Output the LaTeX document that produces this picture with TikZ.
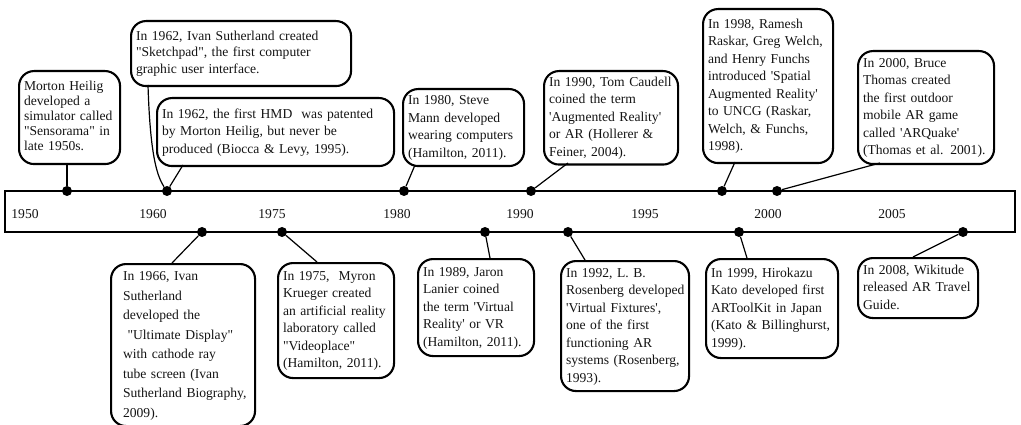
\documentclass[tikz,border=0pt]{standalone}
\usepackage{fontspec}
\setmainfont{Liberation Serif}
\newcommand{\sq}{\textquotesingle}
\newcommand{\dq}{\textquotedbl}
\newcommand{\tl}[1]{\begin{tabular}{@{}l@{}}#1\end{tabular}}
\begin{document}
\begin{tikzpicture}[x=1pt,y=-1pt,
  evbox/.style={draw, line width=2.1pt, rounded corners=15pt, align=left,
    inner xsep=5pt, inner ysep=3pt, anchor=north west, text=black!92,
    font=\fontsize{13.6}{17.5}\selectfont},
  evdot/.style={circle, fill=black, inner sep=0pt, minimum size=10pt},
  yr/.style={font=\fontsize{13.6}{16}\selectfont, text=black!92},
  conn/.style={line width=1.2pt}]
\useasboundingbox (0,0) rectangle (1021,425);
% timeline bar
\draw[line width=2.3pt] (5,191) rectangle (1015,232);
% years
\node[yr] (y1950) at (25,214) {1950};
\node[yr] (y1960) at (153,214) {1960};
\node[yr] (y1975) at (272,214) {1975};
\node[yr] (y1980) at (397,214) {1980};
\node[yr] (y1990) at (520,214) {1990};
\node[yr] (y1995) at (645,214) {1995};
\node[yr] (y2000) at (768,214) {2000};
\node[yr] (y2005) at (892,214) {2005};
% dots on top line
\node[evdot] (d1) at (67,191) {};
\node[evdot] (d2) at (167,191) {};
\node[evdot] (d3) at (404,191) {};
\node[evdot] (d4) at (531,191) {};
\node[evdot] (d5) at (722,191) {};
\node[evdot] (d6) at (777,191) {};
% dots on bottom line
\node[evdot] (e1) at (202,232) {};
\node[evdot] (e2) at (282,232) {};
\node[evdot] (e3) at (485,232) {};
\node[evdot] (e4) at (568,232) {};
\node[evdot] (e5) at (739,232) {};
\node[evdot] (e6) at (963,232) {};
% top boxes
\node[evbox, text width=91pt, minimum height=93pt, font=\fontsize{13.6}{15.2}\selectfont] (bA) at (18,70)
  {\tl{Morton Heilig\\developed a\\simulator called\\\dq Sensorama\dq\ in\\late 1950s.}};
\node[evbox, text width=210pt, minimum height=65pt, font=\fontsize{13.6}{16.8}\selectfont] (bB) at (130,20)
  {\tl{In 1962, Ivan Sutherland created\\\dq Sketchpad\dq, the first computer\\graphic user interface.}};
\node[evbox, text width=227pt, minimum height=68pt] (bC) at (156,97)
  {\tl{In 1962, the first HMD\ \ was patented\\by Morton Heilig, but never be\\produced (Biocca \& Levy, 1995).}};
\node[evbox, text width=111pt, minimum height=77pt] (bD) at (402,88)
  {\tl{In 1980, Steve\\Mann developed\\wearing computers\\(Hamilton, 2011).}};
\node[evbox, text width=124pt, minimum height=93pt] (bE) at (543,70)
  {\tl{In 1990, Tom Caudell\\coined the term\\\sq Augmented Reality\sq\\or AR (Hollerer \&\\Feiner, 2004).}};
\node[evbox, text width=120pt, minimum height=154pt] (bF) at (702,8)
  {\tl{In 1998, Ramesh\\Raskar, Greg Welch,\\and Henry Funchs\\introduced \sq Spatial\\Augmented Reality\sq\\to UNCG (Raskar,\\Welch, \& Funchs,\\1998).}};
\node[evbox, text width=126pt, minimum height=113pt] (bG) at (857,50)
  {\tl{In 2000, Bruce\\Thomas created\\the first outdoor\\mobile AR game\\called \sq ARQuake\sq\\(Thomas et al. 2001).}};
% bottom boxes
\node[evbox, text width=132pt, minimum height=160pt, inner xsep=6pt, font=\fontsize{13.6}{19.5}\selectfont] (bH) at (110,263)
  {\hspace*{6pt}\tl{In 1966, Ivan\\Sutherland\\developed the\\\ \dq Ultimate Display\dq\\with cathode ray\\tube screen (Ivan\\Sutherland Biography,\\2009).}};
\node[evbox, text width=106pt, minimum height=115pt] (bI) at (277,262)
  {\tl{In 1975,\ \ Myron\\Krueger created\\an artificial reality\\laboratory called\\\dq Videoplace\dq\\(Hamilton, 2011).}};
\node[evbox, text width=106pt, minimum height=97pt] (bJ) at (417,258)
  {\tl{In 1989, Jaron\\Lanier coined\\the term \sq Virtual\\Reality\sq\ or VR\\(Hamilton, 2011).}};
\node[evbox, text width=118pt, minimum height=130pt] (bK) at (560,260)
  {\tl{In 1992, L. B.\\Rosenberg developed\\\sq Virtual Fixtures\sq,\\one of the first\\functioning AR\\systems (Rosenberg,\\1993).}};
\node[evbox, text width=122pt, minimum height=99pt] (bL) at (705,258)
  {\tl{In 1999, Hirokazu\\Kato developed first\\ARToolKit in Japan\\(Kato \& Billinghurst,\\1999).}};
\node[evbox, text width=110pt, minimum height=60pt] (bM) at (857,257)
  {\tl{In 2008, Wikitude\\released AR Travel\\Guide.}};
% connector ends at boxes
\coordinate (cA) at (67,163);
\coordinate (cB) at (148,85);
\coordinate (cC) at (183,165);
\coordinate (cD) at (415,165);
\coordinate (cE) at (568,163);
\coordinate (cF) at (735,162);
\coordinate (cG) at (880,163);
\coordinate (cH) at (172,263);
\coordinate (cI) at (317,262);
\coordinate (cJ) at (490,258);
\coordinate (cK) at (585,260);
\coordinate (cL) at (747,258);
\coordinate (cM) at (913,257);
% connectors
\draw[conn] (cA) -- (d1);
\draw[conn] (cB) .. controls (150,150) and (156,175) .. (d2);
\draw[conn] (cC) -- (d2);
\draw[conn] (cD) -- (d3);
\draw[conn] (cE) -- (d4);
\draw[conn] (cF) -- (d5);
\draw[conn] (cG) -- (d6);
\draw[conn] (cH) -- (e1);
\draw[conn] (cI) -- (e2);
\draw[conn] (cJ) -- (e3);
\draw[conn] (cK) -- (e4);
\draw[conn] (cL) -- (e5);
\draw[conn] (cM) -- (e6);
\end{tikzpicture}
\end{document}
